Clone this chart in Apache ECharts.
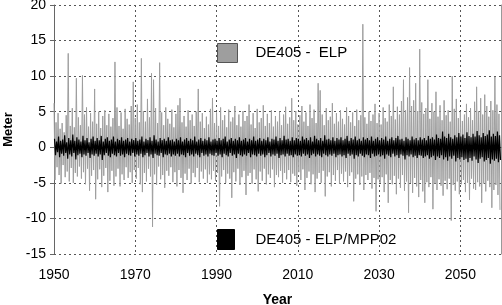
<!DOCTYPE html>
<html>
<head>
<meta charset="utf-8">
<script src="https://cdn.jsdelivr.net/npm/echarts@6/dist/echarts.min.js"></script>
<style>
  html, body { margin: 0; padding: 0; background: #fff; }
  #main { width: 502px; height: 305px; }
</style>
</head>
<body>
<div id="main"></div>
<script>
// half-year samples, 1950.0 .. 2059.5 ; each sample gives one peak and one trough
var startYear = 1950;
var step = 0.5;
var xTicks = [1950, 1970, 1990, 2010, 2030, 2050];
var yTicks = [-15, -10, -5, 0, 5, 10, 15, 20];

var nameElp = 'DE405 -  ELP';
var nameMpp = 'DE405 - ELP/MPP02';

// DE405 - ELP, peaks (m)
var elpHi = [
  6.2, 3.5, 4.8, 2.6, 3.4, 2.1, 4.5, 13.2, 3.0, 5.5, 2.8, 9.7, 4.2, 3.1, 10.1, 4.6, 5.6, 2.9, 4.8, 3.6,
  8.2, 3.3, 5.0, 2.7, 4.4, 5.2, 3.1, 4.7, 2.9, 4.1, 12.0, 5.6, 3.0, 4.9, 2.6, 5.4, 4.0, 3.2, 5.8, 9.2,
  4.1, 6.0, 3.5, 12.5, 5.1, 3.6, 6.8, 4.2, 10.4, 9.5, 5.5, 3.4, 11.9, 4.9, 3.1, 5.6, 4.0, 3.3, 5.3, 2.8,
  4.7, 5.9, 6.9, 3.5, 4.4, 2.9, 5.2, 3.8, 4.6, 3.0, 5.0, 8.2, 3.6, 4.8, 2.7, 4.3, 3.2, 5.4, 6.9, 3.4,
  4.9, 3.0, 5.6, 3.8, 4.5, 2.8, 5.3, 3.6, 4.2, 5.8, 3.1, 4.6, 2.9, 5.1, 3.7, 4.4, 6.0, 3.2, 4.8, 2.7,
  5.4, 3.5, 4.1, 5.9, 3.0, 4.7, 3.4, 5.2, 2.9, 4.4, 3.6, 5.0, 3.1, 4.6, 5.7, 3.3, 4.2, 6.9, 3.8, 5.1,
  3.2, 4.5, 5.8, 3.6, 4.9, 3.0, 6.0, 4.1, 5.3, 3.4, 9.0, 8.0, 4.6, 3.1, 5.5, 3.8, 4.3, 6.2, 3.3, 4.8,
  3.6, 5.2, 4.0, 3.2, 5.6, 4.4, 3.5, 4.9, 3.0, 5.3, 3.8, 4.5, 17.3, 4.2, 3.3, 5.0, 3.7, 4.6, 6.1, 3.4,
  4.8, 3.2, 5.6, 4.1, 3.6, 6.0, 4.4, 8.5, 3.9, 5.7, 4.6, 6.5, 9.5, 5.2, 7.0, 11.2, 5.8, 6.6, 9.0, 5.1,
  13.8, 6.3, 4.7, 5.5, 9.5, 4.0, 6.2, 5.0, 7.8, 4.3, 5.9, 3.8, 6.6, 4.5, 5.2, 3.6, 10.0, 5.4, 6.8, 4.1,
  5.0, 3.7, 4.6, 6.1, 4.2, 5.5, 3.8, 6.4, 8.5, 5.1, 6.9, 4.6, 7.4, 5.8, 4.3, 6.5, 5.2, 9.9, 6.0, 4.7
];
// DE405 - ELP, troughs (m)
var elpLo = [
  -4.6, -2.8, -3.9, -5.1, -2.5, -4.2, -3.4, -4.8, -2.9, -5.0, -3.6, -4.1, -2.7, -4.4, -3.5, -5.2, -3.0, -6.1, -4.0, -3.2,
  -7.3, -4.5, -3.1, -5.6, -4.0, -2.9, -6.3, -4.7, -3.3, -5.4, -4.1, -3.0, -5.5, -3.8, -4.6, -2.8, -4.3, -3.5, -5.0, -3.2,
  -4.4, -2.9, -5.2, -6.3, -3.6, -4.8, -3.0, -4.1, -11.2, -3.8, -5.3, -2.7, -4.5, -3.9, -5.7, -3.3, -4.0, -2.8, -4.9, -3.5,
  -5.5, -3.2, -4.3, -6.4, -3.7, -4.6, -3.0, -5.1, -3.6, -4.2, -2.9, -4.9, -3.4, -4.4, -3.1, -5.0, -3.8, -4.5, -3.3, -4.7,
  -3.6, -8.3, -4.1, -3.2, -5.0, -3.7, -4.4, -7.1, -3.5, -4.8, -3.0, -5.3, -4.2, -3.3, -6.7, -4.0, -3.6, -5.1, -3.1, -4.5,
  -6.2, -3.4, -4.7, -3.0, -5.2, -3.8, -4.3, -3.1, -5.6, -3.9, -4.2, -3.3, -5.0, -3.6, -4.5, -3.2, -4.9, -3.7, -4.0, -5.4,
  -3.5, -4.6, -3.1, -6.0, -4.3, -3.4, -5.2, -3.8, -6.3, -4.4, -3.6, -5.0, -3.3, -6.9, -4.1, -3.5, -5.5, -3.9, -4.7, -3.2,
  -5.1, -3.7, -4.8, -3.4, -5.6, -4.0, -3.5, -7.6, -4.4, -3.8, -5.3, -4.1, -6.0, -3.9, -4.6, -3.6, -5.8, -4.3, -9.0, -4.5,
  -5.0, -4.2, -6.3, -3.8, -7.8, -4.6, -5.2, -4.0, -6.6, -4.4, -5.7, -3.9, -6.1, -4.8, -9.2, -5.0, -6.4, -4.3, -5.5, -7.0,
  -4.6, -6.2, -7.8, -4.9, -5.6, -4.2, -8.7, -5.1, -6.0, -4.5, -5.4, -6.8, -4.7, -5.9, -4.4, -10.3, -5.3, -6.1, -4.8, -6.6,
  -5.2, -4.6, -6.3, -5.0, -7.4, -4.4, -5.8, -6.0, -4.9, -5.5, -7.8, -5.1, -6.2, -4.7, -5.6, -8.5, -6.0, -5.3, -6.7, -8.8
];
// DE405 - ELP/MPP02, peaks (m)
var mppHi = [
  1.2, 0.8, 1.5, 0.9, 1.1, 1.7, 0.7, 1.3, 1.0, 1.8, 0.9, 1.4, 1.1, 0.8, 1.6, 1.0, 1.3, 0.7, 1.2, 1.5,
  0.9, 1.3, 1.0, 1.6, 0.8, 1.2, 1.4, 0.9, 1.1, 1.5, 0.8, 1.2, 1.0, 1.4, 0.9, 1.1, 1.3, 0.8, 1.2, 1.0,
  1.3, 0.9, 1.1, 1.5, 0.8, 1.2, 1.0, 1.4, 0.9, 1.7, 1.1, 0.8, 1.3, 1.0, 1.2, 0.9, 1.4, 1.0, 1.1, 0.8,
  1.2, 1.0, 1.4, 0.8, 1.1, 1.3, 0.9, 1.2, 1.0, 1.5, 0.8, 1.1, 1.3, 0.9, 1.2, 1.0, 1.4, 0.8, 1.1, 1.2,
  0.9, 1.3, 1.0, 1.2, 1.5, 0.8, 1.1, 1.3, 0.9, 1.2, 1.0, 1.4, 0.9, 1.1, 1.3, 0.8, 1.2, 1.0, 1.5, 0.9,
  1.1, 1.3, 0.9, 1.2, 1.0, 1.4, 0.8, 1.2, 1.1, 1.5, 0.9, 1.3, 1.0, 1.6, 1.1, 1.2, 0.9, 1.4, 1.0, 1.3,
  1.2, 0.9, 1.5, 1.1, 1.3, 1.0, 1.4, 0.8, 1.6, 1.2, 1.0, 1.3, 0.9, 1.7, 1.1, 1.2, 1.0, 1.4, 0.9, 1.3,
  1.1, 1.4, 1.0, 1.2, 1.6, 0.9, 1.3, 1.1, 1.5, 1.0, 1.2, 0.9, 1.4, 1.1, 1.3, 1.0, 1.5, 0.9, 1.2, 1.4,
  1.0, 1.3, 1.1, 1.5, 0.9, 1.2, 1.4, 1.0, 1.3, 1.6, 1.1, 1.2, 0.9, 1.4, 1.2, 1.0, 1.5, 1.1, 1.3, 1.0,
  1.4, 1.1, 1.3, 1.0, 1.6, 1.2, 1.4, 1.1, 1.8, 1.3, 1.2, 2.2, 1.5, 1.3, 1.9, 1.4, 1.2, 1.7, 1.4, 2.0,
  1.5, 1.8, 1.3, 2.1, 1.6, 1.4, 1.9, 1.5, 2.3, 1.7, 1.4, 2.0, 1.6, 1.8, 2.4, 1.5, 1.9, 1.6, 2.2, 1.7
];
// DE405 - ELP/MPP02, troughs (m)
var mppLo = [
  -1.1, -0.7, -1.4, -0.9, -1.2, -0.8, -1.6, -1.0, -1.3, -0.8, -1.7, -1.1, -0.9, -1.4, -1.0, -1.2, -0.8, -1.5, -1.0, -1.2,
  -0.9, -1.3, -1.0, -1.8, -1.1, -0.8, -1.2, -1.4, -0.9, -1.1, -1.3, -0.8, -1.2, -1.0, -1.4, -0.9, -1.1, -1.2, -0.8, -1.3,
  -1.0, -1.2, -0.9, -1.4, -1.1, -0.8, -1.3, -1.0, -1.5, -0.9, -1.1, -1.2, -0.8, -1.4, -1.0, -1.1, -0.9, -1.3, -1.0, -1.2,
  -0.9, -1.3, -1.0, -1.1, -1.4, -0.8, -1.2, -1.0, -1.3, -0.9, -1.1, -1.4, -0.8, -1.2, -1.0, -1.3, -0.9, -1.1, -1.2, -0.8,
  -1.2, -1.0, -1.4, -0.9, -1.1, -1.3, -0.8, -1.2, -1.0, -1.5, -0.9, -1.1, -1.3, -1.0, -1.2, -0.8, -1.4, -1.0, -1.1, -1.3,
  -0.9, -1.2, -1.0, -1.4, -1.1, -0.8, -1.3, -1.0, -1.2, -0.9, -1.5, -1.1, -1.0, -1.3, -0.9, -1.2, -1.1, -1.4, -1.0, -1.2,
  -1.1, -1.3, -0.9, -1.2, -1.0, -1.5, -1.1, -0.9, -1.3, -1.0, -1.2, -1.4, -0.9, -1.1, -1.3, -1.0, -1.2, -0.9, -1.4, -1.1,
  -1.0, -1.3, -1.1, -1.5, -0.9, -1.2, -1.0, -1.6, -1.1, -1.3, -0.9, -1.2, -1.4, -1.0, -1.1, -1.5, -0.9, -1.3, -1.2, -1.0,
  -1.3, -1.1, -1.6, -1.0, -1.2, -1.4, -0.9, -1.3, -1.1, -1.5, -1.0, -1.2, -1.7, -1.1, -1.3, -1.0, -1.4, -1.2, -1.5, -1.1,
  -1.2, -1.5, -1.3, -1.1, -1.6, -1.4, -1.2, -1.8, -1.3, -1.5, -1.1, -1.7, -1.4, -1.9, -1.3, -1.6, -1.2, -2.0, -1.5, -1.7,
  -1.4, -1.8, -1.6, -2.1, -1.5, -1.9, -1.3, -1.7, -2.2, -1.6, -1.4, -2.0, -1.8, -1.5, -2.3, -1.7, -1.9, -1.6, -2.1, -1.8
];

// interleave peaks and troughs into [year, value] pairs
function zigzag(hi, lo, phase) {
  var out = [];
  for (var i = 0; i < hi.length; i++) {
    var t = startYear + i * step + phase;
    out.push([t, hi[i]]);
    out.push([t + step / 2, lo[i]]);
  }
  return out;
}

var font = '"Liberation Sans", Arial, sans-serif';

var chart = echarts.init(document.getElementById('main'));
chart.setOption({
  animation: false,
  textStyle: { fontFamily: font },
  grid: { left: 54, right: 1, top: 5, bottom: 51, outerBoundsMode: 'none', containLabel: false },
  legend: [{
    left: 217, top: 43, padding: 0,
    itemWidth: 20, itemHeight: 19,
    icon: 'rect',
    itemStyle: { borderColor: '#555', borderWidth: 1 },
    textStyle: { fontSize: 15, color: '#000', fontFamily: font, padding: [0, 0, 0, 13] },
    data: [nameElp]
  }, {
    left: 217, top: 229, padding: 0,
    itemWidth: 17, itemHeight: 20,
    icon: 'rect',
    itemStyle: { borderColor: '#000', borderWidth: 1 },
    textStyle: { fontSize: 15, color: '#000', fontFamily: font, padding: [0, 0, 0, 16] },
    data: [nameMpp]
  }],
  xAxis: {
    type: 'value',
    min: xTicks[0], max: 2060, interval: 20,
    name: 'Year', nameLocation: 'middle', nameGap: 39,
    nameTextStyle: { fontSize: 14, fontWeight: 'bold', color: '#000', fontFamily: font },
    axisLine: { lineStyle: { color: '#666', width: 1 } },
    axisTick: { show: true, length: 4, lineStyle: { color: '#666' } },
    axisLabel: {
      fontSize: 14, color: '#000', margin: 14, showMaxLabel: false, fontFamily: font,
      formatter: function (v) { return String(v); }
    },
    splitLine: { show: true, lineStyle: { color: '#555', type: [2, 3], width: 1 } }
  },
  yAxis: [{
    type: 'value',
    min: yTicks[0], max: yTicks[yTicks.length - 1], interval: 5,
    name: 'Meter', nameLocation: 'middle', nameGap: 33,
    nameTextStyle: { fontSize: 13, fontWeight: 'bold', color: '#000', fontFamily: font },
    axisLine: { show: true, lineStyle: { color: '#666', width: 1 } },
    axisTick: { show: true, length: 4, lineStyle: { color: '#666' } },
    axisLabel: { fontSize: 14, color: '#000', margin: 8, fontFamily: font },
    splitLine: { show: true, lineStyle: { color: '#555', type: [2, 3], width: 1 } }
  }, {
    type: 'value', position: 'right',
    min: yTicks[0], max: yTicks[yTicks.length - 1], interval: 5,
    axisLine: { show: true, lineStyle: { color: '#999' } },
    axisTick: { show: false }, axisLabel: { show: false }, splitLine: { show: false }
  }],
  series: [{
    name: nameElp,
    type: 'line',
    symbol: 'none',
    color: '#9e9e9e',
    lineStyle: { color: '#9e9e9e', width: 1 },
    data: zigzag(elpHi, elpLo, 0)
  }, {
    name: nameMpp,
    type: 'line',
    symbol: 'none',
    color: '#000',
    lineStyle: { color: '#000', width: 1.2 },
    data: zigzag(mppHi, mppLo, 0.125)
  }]
});
</script>
</body>
</html>
